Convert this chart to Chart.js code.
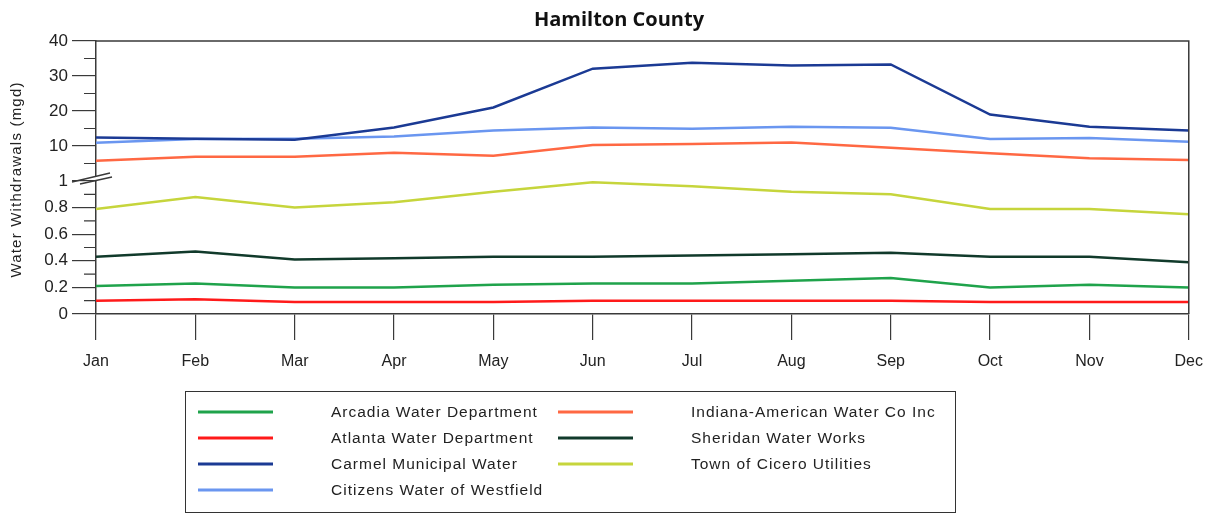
<!DOCTYPE html>
<html>
<head>
<meta charset="utf-8">
<script src="https://cdn.jsdelivr.net/npm/chart.js@4.4.1/dist/chart.umd.min.js"></script>
<style>
  html, body { margin: 0; padding: 0; background: #fff; }
  #wrap { width: 1215px; height: 515px; }
</style>
</head>
<body>
<div id="wrap"><canvas id="chart"></canvas></div>
<script>
// monthly withdrawals, mgd
const months = ['Jan', 'Feb', 'Mar', 'Apr', 'May', 'Jun', 'Jul', 'Aug', 'Sep', 'Oct', 'Nov', 'Dec'];
const arcadia   = [0.21, 0.23, 0.20, 0.20, 0.22, 0.23, 0.23, 0.25, 0.27, 0.20, 0.22, 0.20];
const atlanta   = [0.10, 0.11, 0.09, 0.09, 0.09, 0.10, 0.10, 0.10, 0.10, 0.09, 0.09, 0.09];
const carmel    = [12.4, 12.1, 11.8, 15.3, 21.0, 32.1, 33.8, 33.0, 33.3, 19.0, 15.5, 14.4];
const citizens  = [10.9, 12.0, 12.1, 12.7, 14.4, 15.3, 14.9, 15.5, 15.2, 12.0, 12.3, 11.2];
const indiana   = [5.8, 6.9, 6.9, 8.1, 7.2, 10.3, 10.6, 11.0, 9.5, 7.9, 6.5, 6.0];
const sheridan  = [0.43, 0.47, 0.41, 0.42, 0.43, 0.43, 0.44, 0.45, 0.46, 0.43, 0.43, 0.39];
const cicero    = [0.79, 0.88, 0.80, 0.84, 0.92, 0.99, 0.96, 0.92, 0.90, 0.79, 0.79, 0.75];

const upperTicks = [10, 20, 30, 40];
const upperMinor = [5, 15, 25, 35];
const lowerMinor = [0.1, 0.3, 0.5, 0.7, 0.9];

const AX = '#3a3a3a';
const FONT = "'Liberation Sans', Arial, sans-serif";

function ds(label, data, color, axis) {
  return { label: label, data: data, borderColor: color, backgroundColor: color, yAxisID: axis,
           borderWidth: 2.5, pointRadius: 0, tension: 0, fill: false };
}

// extra drawing: title, frame, minor ticks, axis break, y title, boxed legend
const decor = {
  id: 'decor',
  afterDraw(chart) {
    const ctx = chart.ctx;
    const a = chart.chartArea;
    const yt = chart.scales.yTop, yb = chart.scales.yBot;
    ctx.save();
    ctx.fillStyle = '#111';
    ctx.font = "bold 20px 'Open Sans', " + FONT;
    ctx.textAlign = 'center';
    ctx.textBaseline = 'middle';
    ctx.fillText('Hamilton County', 619, 20);

    ctx.strokeStyle = AX;
    ctx.lineWidth = 1.5;
    ctx.beginPath();
    ctx.moveTo(a.left, a.top); ctx.lineTo(a.right, a.top); ctx.lineTo(a.right, a.bottom);
    ctx.stroke();
    ctx.lineWidth = 1.2;
    ctx.beginPath();
    upperMinor.forEach(v => { const y = yt.getPixelForValue(v); ctx.moveTo(a.left - 12, y); ctx.lineTo(a.left, y); });
    lowerMinor.forEach(v => { const y = yb.getPixelForValue(v); ctx.moveTo(a.left - 12, y); ctx.lineTo(a.left, y); });
    ctx.stroke();
    // break marks
    const by = yb.top;
    ctx.strokeStyle = '#fff';
    ctx.lineWidth = 3;
    ctx.beginPath(); ctx.moveTo(a.left, by - 5); ctx.lineTo(a.left, by - 1); ctx.stroke();
    ctx.strokeStyle = AX;
    ctx.lineWidth = 1.3;
    ctx.beginPath();
    ctx.moveTo(a.left - 24, by + 1); ctx.lineTo(a.left + 14, by - 8);
    ctx.moveTo(a.left - 16, by + 3); ctx.lineTo(a.left + 16, by - 4);
    ctx.stroke();
    // y title
    ctx.fillStyle = '#222';
    ctx.font = '15px ' + FONT;
    ctx.letterSpacing = '1.2px';
    ctx.translate(17, (a.top + a.bottom) / 2 + 2);
    ctx.rotate(-Math.PI / 2);
    ctx.fillText('Water Withdrawals (mgd)', 0, 0);
    ctx.restore();

    // legend
    ctx.save();
    ctx.strokeStyle = '#333';
    ctx.lineWidth = 1;
    ctx.strokeRect(185.5, 391.5, 770, 121);
    ctx.font = '15.5px ' + FONT;
    ctx.letterSpacing = '1px';
    ctx.textAlign = 'left';
    ctx.textBaseline = 'middle';
    ctx.fillStyle = '#222';
    chart.data.datasets.forEach((d, i) => {
      const col = i < 4 ? 0 : 1;
      const row = i < 4 ? i : i - 4;
      const x0 = col ? 558 : 198;
      const y = 412 + row * 26;
      ctx.strokeStyle = d.borderColor;
      ctx.lineWidth = 3;
      ctx.beginPath(); ctx.moveTo(x0, y); ctx.lineTo(x0 + 75, y); ctx.stroke();
      ctx.fillText(d.label, x0 + 133, y + 1);
    });
    ctx.restore();
  }
};

new Chart(document.getElementById('chart'), {
  type: 'line',
  data: {
    labels: months,
    datasets: [
      ds('Arcadia Water Department', arcadia, '#1fa34b', 'yBot'),
      ds('Atlanta Water Department', atlanta, '#ff1a1a', 'yBot'),
      ds('Carmel Municipal Water', carmel, '#1b3a94', 'yTop'),
      ds('Citizens Water of Westfield', citizens, '#6a96f0', 'yTop'),
      ds('Indiana-American Water Co Inc', indiana, '#ff6843', 'yTop'),
      ds('Sheridan Water Works', sheridan, '#113a2b', 'yBot'),
      ds('Town of Cicero Utilities', cicero, '#c6d53c', 'yBot')
    ]
  },
  options: {
    responsive: true,
    maintainAspectRatio: false,
    animation: false,
    layout: { padding: { top: 41, right: 26, bottom: 141, left: 0 } },
    plugins: {
      legend: { display: false },
      tooltip: { enabled: false },
      title: { display: false }
    },
    scales: {
      x: {
        offset: false,
        grid: { drawOnChartArea: false, tickLength: 26, color: AX, lineWidth: 1.2 },
        border: { color: AX, width: 1.5 },
        ticks: { color: '#222', font: { family: FONT, size: 16 }, padding: 12, maxRotation: 0, autoSkip: false },
        afterFit(s) { s.height = 60; }
      },
      yBot: {
        type: 'linear',
        position: 'left',
        stack: 'y',
        stackWeight: 133,
        min: 0,
        max: 1,
        ticks: {
          stepSize: 0.2, autoSkip: false, color: '#222', font: { family: FONT, size: 17 }, padding: 4,
          callback: v => String(+v.toFixed(1))
        },
        grid: { drawOnChartArea: false, tickLength: 24, lineWidth: 1.2, tickColor: AX },
        border: { color: AX, width: 1.5 },
        afterFit(s) { s.width = 96; }
      },
      yTop: {
        type: 'linear',
        position: 'left',
        stack: 'y',
        stackWeight: 140,
        min: 0,
        max: 40,
        afterBuildTicks(s) { s.ticks = [0].concat(upperTicks).map(v => ({ value: v })); },
        ticks: {
          autoSkip: false, color: '#222', font: { family: FONT, size: 17 }, padding: 4,
          callback: v => (v === 0 ? '' : String(v))
        },
        grid: {
          drawOnChartArea: false, tickLength: 24, lineWidth: 1.2,
          tickColor: c => (c.tick && c.tick.value === 0 ? 'rgba(0,0,0,0)' : AX)
        },
        border: { color: AX, width: 1.5 },
        afterFit(s) { s.width = 96; }
      }
    }
  },
  plugins: [decor]
});
</script>
</body>
</html>
